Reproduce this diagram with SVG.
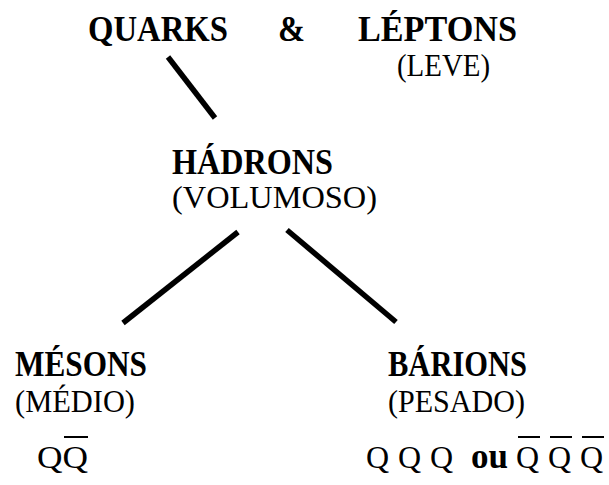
<svg xmlns="http://www.w3.org/2000/svg" width="609" height="485" viewBox="0 0 609 485">
<style>
.b{font-family:"Liberation Serif","Times New Roman",serif;font-weight:bold;font-size:35px;fill:#000}
.r{font-family:"Liberation Serif","Times New Roman",serif;font-size:32px;fill:#000}
.ln{stroke:#000;stroke-width:5.5;stroke-linecap:butt;fill:none}
.ob{stroke:#000;stroke-width:2;fill:none}
</style>
<rect width="609" height="485" fill="#fff"/>
<g id="connectors">
<line class="ln" x1="168" y1="57" x2="215" y2="118"/>
<line class="ln" x1="238" y1="232" x2="123" y2="323"/>
<line class="ln" x1="287" y1="230" x2="396" y2="322"/>
</g>
<g id="quarks">
<text class="b" x="88" y="41" textLength="140" lengthAdjust="spacingAndGlyphs">QUARKS</text>
<text class="b" x="278" y="41" textLength="27" lengthAdjust="spacingAndGlyphs">&amp;</text>
</g>
<g id="leptons">
<text class="b" x="358" y="41" textLength="159" lengthAdjust="spacingAndGlyphs">LÉPTONS</text>
<text class="r" x="397" y="76" font-size="24" textLength="93" lengthAdjust="spacingAndGlyphs">(LEVE)</text>
</g>
<g id="hadrons">
<text class="b" x="172" y="174" textLength="161" lengthAdjust="spacingAndGlyphs">HÁDRONS</text>
<text class="r" x="172" y="208" textLength="205" lengthAdjust="spacingAndGlyphs">(VOLUMOSO)</text>
</g>
<g id="mesons">
<text class="b" x="15" y="376" textLength="132" lengthAdjust="spacingAndGlyphs">MÉSONS</text>
<text class="r" x="15" y="412" textLength="120" lengthAdjust="spacingAndGlyphs">(MÉDIO)</text>
<text class="r" x="37" y="468" textLength="51" lengthAdjust="spacingAndGlyphs">QQ</text>
<line class="ob" x1="64" y1="437" x2="88" y2="437"/>
</g>
<g id="barions">
<text class="b" x="388" y="376" textLength="139" lengthAdjust="spacingAndGlyphs">BÁRIONS</text>
<text class="r" x="388" y="412" textLength="137" lengthAdjust="spacingAndGlyphs">(PESADO)</text>
<text class="r" y="468"><tspan x="366">Q</tspan><tspan x="398">Q</tspan><tspan x="430">Q</tspan></text>
<text class="b" x="471" y="468" font-size="24">ou</text>
<text class="r" y="468"><tspan x="516">Q</tspan><tspan x="548">Q</tspan><tspan x="580">Q</tspan></text>
<line class="ob" x1="518" y1="437" x2="540" y2="437"/>
<line class="ob" x1="550" y1="437" x2="572" y2="437"/>
<line class="ob" x1="582" y1="437" x2="604" y2="437"/>
</g>
</svg>
